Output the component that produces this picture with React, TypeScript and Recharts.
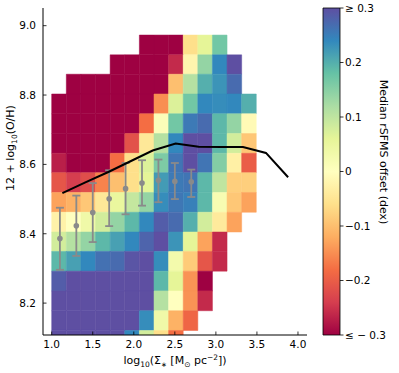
import React from 'react';
import { ComposedChart, XAxis, YAxis, ReferenceArea, Scatter, ErrorBar, Label } from 'recharts';

// bin edges of the 2D histogram (log Sigma_* and 12+log(O/H))
const xEdges = [1.0, 1.178, 1.356, 1.534, 1.712, 1.89, 2.068, 2.246, 2.424, 2.602, 2.78, 2.958, 3.136, 3.314, 3.492];
const yEdges = [8.973, 8.916, 8.86, 8.803, 8.746, 8.689, 8.632, 8.576, 8.519, 8.462, 8.405, 8.349, 8.292, 8.235, 8.178, 8.121, 8.065];

// median rSFMS offset per cell, rows from top (high O/H) to bottom
const N = null;
const offsetGrid: (number | null)[][] = [
  [N, N, N, N, N, N, -0.35, -0.35, -0.35, -0.06, 0.06, 0.17, N, N],
  [N, N, N, N, -0.35, -0.35, -0.35, -0.35, -0.26, -0.02, 0.14, 0.24, 0.3, N],
  [N, -0.35, -0.35, -0.35, -0.35, -0.35, -0.35, -0.35, -0.1, 0.11, 0.2, 0.228, 0.27, N],
  [-0.35, -0.35, -0.35, -0.35, -0.35, -0.35, -0.35, -0.15, 0.07, 0.17, 0.24, 0.235, 0.24, 0.2],
  [-0.35, -0.35, -0.35, -0.35, -0.35, -0.35, -0.18, 0.01, 0.17, 0.255, 0.27, 0.19, 0.14, -0.01],
  [-0.35, -0.35, -0.35, -0.35, -0.35, -0.215, -0.045, 0.11, 0.24, 0.3, 0.3, 0.19, 0.08, -0.09],
  [-0.27, -0.35, -0.35, -0.35, -0.18, -0.06, 0.07, 0.16, 0.26, 0.32, 0.26, 0.155, -0.03, -0.2],
  [-0.21, -0.24, -0.22, -0.16, -0.1, -0.06, 0.06, 0.22, 0.255, 0.26, 0.19, 0.1, -0.08, -0.08],
  [-0.13, -0.115, -0.09, -0.045, 0.05, 0.095, 0.14, 0.235, 0.258, 0.248, 0.19, 0.02, -0.09, -0.13],
  [-0.025, 0.0, 0.035, 0.08, 0.14, 0.19, 0.24, 0.285, 0.27, 0.2, 0.08, -0.04, -0.13, N],
  [0.08, 0.11, 0.14, 0.19, 0.215, 0.24, 0.278, 0.32, 0.228, 0.06, -0.13, -0.26, N, N],
  [0.19, 0.215, 0.24, 0.264, 0.27, 0.294, 0.33, 0.235, 0.03, -0.085, -0.21, -0.26, N, N],
  [0.285, 0.35, 0.35, 0.35, 0.35, 0.35, 0.35, 0.19, 0.06, -0.145, -0.32, N, N, N],
  [0.35, 0.35, 0.35, 0.35, 0.35, 0.35, 0.35, 0.11, 0.0, -0.145, -0.26, N, N, N],
  [0.35, 0.35, 0.35, 0.35, 0.35, 0.35, 0.235, 0.035, -0.115, -0.19, N, N, N, N],
  [0.35, 0.35, 0.35, 0.35, 0.35, 0.24, 0.08, -0.06, -0.18, N, N, N, N, N],
];

// black median relation
const medianX = [1.13, 1.41, 1.69, 1.96, 2.23, 2.51, 2.79, 3.06, 3.33, 3.61, 3.88];
const medianY = [8.517, 8.548, 8.578, 8.609, 8.64, 8.66, 8.651, 8.65, 8.65, 8.633, 8.563];

// grey binned points with error bars
const binX = [1.1, 1.3, 1.5, 1.7, 1.9, 2.1, 2.3, 2.5, 2.7];
const binY = [8.386, 8.423, 8.461, 8.501, 8.53, 8.546, 8.554, 8.551, 8.55];
const binLow = [8.296, 8.336, 8.376, 8.422, 8.456, 8.481, 8.491, 8.5, 8.506];
const binHigh = [8.475, 8.51, 8.546, 8.583, 8.604, 8.612, 8.614, 8.604, 8.585];

const xTicks = [1, 1.5, 2, 2.5, 3, 3.5, 4];
const yTicks = [8.2, 8.4, 8.6, 8.8, 9.0];
const cbarTicks = [-0.3, -0.2, -0.1, 0, 0.1, 0.2, 0.3];
const cbarLabels = ['≤ − 0.3', '−0.2', '−0.1', '0', '0.1', '0.2', '≥ 0.3'];

const FONT = 'DejaVu Sans';
const GREY = '#8a8a8a';
const SPECTRAL = ['#9e0142', '#d53e4f', '#f46d43', '#fdae61', '#fee08b', '#ffffbf', '#e6f598', '#abdda4', '#66c2a5', '#3288bd', '#5e4fa2'];

function spectral(v: number) {
  const t = Math.min(1, Math.max(0, (v + 0.3) / 0.6)) * 10;
  const i = Math.min(9, Math.floor(t));
  const f = t - i;
  const a = SPECTRAL[i], b = SPECTRAL[i + 1];
  const ch = (h: string, k: number) => parseInt(h.slice(1 + 2 * k, 3 + 2 * k), 16);
  const c = [0, 1, 2].map(k => Math.round(ch(a, k) + (ch(b, k) - ch(a, k)) * f));
  return `rgb(${c[0]},${c[1]},${c[2]})`;
}

const cells: { x1: number; x2: number; y1: number; y2: number; v: number }[] = [];
offsetGrid.forEach((row, r) =>
  row.forEach((v, c) => {
    if (v !== null) cells.push({ x1: xEdges[c], x2: xEdges[c + 1], y1: yEdges[r + 1], y2: yEdges[r], v });
  })
);

const lineData = medianX.map((x, i) => ({ x, y: medianY[i] }));
const binData = binX.map((x, i) => ({ x, y: binY[i], err: [binY[i] - binLow[i], binHigh[i] - binY[i]] }));
// end points of the colour bar, so its axes have something to span
const cbarData = [{ x: 0, y: -0.3 }, { x: 1, y: 0.3 }];

const xDomain = [0.894, 4.11];
const yDomain = [8.108, 9.051];

const BottomTick = ({ x, y, payload }: any) => (
  <g>
    <line x1={x} x2={x} y1={y} y2={y - 3.5} stroke="#000" strokeWidth={0.8} />
    <text x={x} y={y + 12.5} textAnchor="middle" fontSize={10.5} fontFamily={FONT} fill="#000">
      {payload.value.toFixed(1)}
    </text>
  </g>
);
const TopTick = ({ x, y }: any) => <line x1={x} x2={x} y1={y} y2={y + 3.5} stroke="#000" strokeWidth={0.8} />;
const LeftTick = ({ x, y, payload }: any) => (
  <g>
    <line x1={x} x2={x + 3.5} y1={y} y2={y} stroke="#000" strokeWidth={0.8} />
    <text x={x - 7} y={y} dy="0.36em" textAnchor="end" fontSize={10.5} fontFamily={FONT} fill="#000">
      {payload.value.toFixed(1)}
    </text>
  </g>
);
const RightTick = ({ x, y }: any) => <line x1={x} x2={x - 3.5} y1={y} y2={y} stroke="#000" strokeWidth={0.8} />;
const CbarTick = ({ x, y, payload }: any) => {
  const i = cbarTicks.findIndex(t => Math.abs(t - payload.value) < 1e-9);
  return (
    <g>
      <line x1={x} x2={x + 3.5} y1={y} y2={y} stroke="#000" strokeWidth={0.8} />
      <text x={x + 5} y={y} dy="0.36em" textAnchor="start" fontSize={10.5} fontFamily={FONT} fill="#000">
        {cbarLabels[i]}
      </text>
    </g>
  );
};

export default function App() {
  return (
    <div style={{ position: 'absolute', left: 0, top: 0, width: 399, height: 373, background: '#fff' }}>
      <div style={{ position: 'absolute', left: 0, top: 0 }}>
        <ComposedChart width={320} height={373} margin={{ top: 8, right: 13, bottom: 0, left: 0 }}>
          <XAxis xAxisId="main" dataKey="x" type="number" domain={xDomain} ticks={xTicks} interval={0} allowDataOverflow
            height={38} tickSize={0} tickMargin={0} tickLine={false} axisLine={{ stroke: '#000' }} tick={<BottomTick />}>
            <Label content={({ viewBox }: any) => (
              <text x={viewBox.x + viewBox.width / 2} y={viewBox.y + 29} textAnchor="middle" fontSize={11} fontFamily={FONT} fill="#000">
                log<tspan fontSize={7.5} dy={3}>10</tspan><tspan dy={-3}>(Σ</tspan><tspan fontSize={7} dy={3}>∗</tspan>
                <tspan dy={-3}> [M</tspan><tspan fontSize={7.5} dy={3}>⊙</tspan><tspan dy={-3}> pc</tspan>
                <tspan fontSize={7.5} dy={-4}>−2</tspan><tspan dy={4}>])</tspan>
              </text>
            )} />
          </XAxis>
          <XAxis xAxisId="top" orientation="top" type="number" domain={xDomain} ticks={xTicks} interval={0} allowDataOverflow
            height={0} tickSize={0} tickMargin={0} tickLine={false} axisLine={{ stroke: '#000' }} tick={<TopTick />} />
          <YAxis yAxisId="main" dataKey="y" type="number" domain={yDomain} ticks={yTicks} interval={0} allowDataOverflow
            width={43} tickSize={0} tickMargin={0} tickLine={false} axisLine={{ stroke: '#000' }} tick={<LeftTick />}>
            <Label content={({ viewBox }: any) => (
              <text transform={`translate(${viewBox.x + 14},${viewBox.y + 140}) rotate(-90)`} textAnchor="middle" fontSize={11} fontFamily={FONT} fill="#000">
                12 + log<tspan fontSize={7.5} dy={3}>10</tspan><tspan dy={-3}>(O/H)</tspan>
              </text>
            )} />
          </YAxis>
          <YAxis yAxisId="right" orientation="right" type="number" domain={yDomain} ticks={yTicks} interval={0} allowDataOverflow
            width={0} tickSize={0} tickMargin={0} tickLine={false} axisLine={{ stroke: '#000' }} tick={<RightTick />} />
          {cells.map((c, i) => (
            <ReferenceArea key={i} xAxisId="main" yAxisId="main" x1={c.x1} x2={c.x2} y1={c.y1} y2={c.y2}
              fill={spectral(c.v)} fillOpacity={1} stroke={spectral(c.v)} strokeWidth={0.5} ifOverflow="hidden" />
          ))}
          <Scatter xAxisId="main" yAxisId="main" data={lineData} dataKey="y" isAnimationActive={false}
            line={{ stroke: '#000', strokeWidth: 2 }} shape={() => <g />} />
          <Scatter xAxisId="main" yAxisId="main" data={binData} dataKey="y" isAnimationActive={false}
            shape={(p: any) => <circle cx={p.cx} cy={p.cy} r={2.8} fill={GREY} />}>
            <ErrorBar dataKey="err" direction="y" width={4} stroke={GREY} strokeWidth={1.8} />
          </Scatter>
        </ComposedChart>
      </div>
      <div style={{ position: 'absolute', left: 300, top: 0 }}>
        <ComposedChart width={99} height={373} margin={{ top: 8, right: 0, bottom: 38, left: 23 }}>
          <defs>
            <linearGradient id="spectralGrad" x1="0" y1="1" x2="0" y2="0">
              {SPECTRAL.map((c, i) => <stop key={i} offset={i / 10} stopColor={c} />)}
            </linearGradient>
          </defs>
          <XAxis xAxisId="cb" dataKey="x" type="number" domain={[0, 1]} allowDataOverflow hide />
          <YAxis yAxisId="cb" dataKey="y" orientation="right" type="number" domain={[-0.3, 0.3]} allowDataOverflow ticks={cbarTicks} interval={0}
            width={59} tickSize={0} tickMargin={0} tickLine={false} axisLine={false} tick={<CbarTick />}>
            <Label content={({ viewBox }: any) => (
              <text transform={`translate(${viewBox.x + 39.5},${viewBox.y + 144}) rotate(90)`} textAnchor="middle" fontSize={11} fontFamily={FONT} fill="#000">
                Median rSFMS offset (dex)
              </text>
            )} />
          </YAxis>
          <Scatter xAxisId="cb" yAxisId="cb" data={cbarData} dataKey="y" isAnimationActive={false} shape={() => <g />} />
          <ReferenceArea xAxisId="cb" yAxisId="cb" x1={0} x2={1} y1={-0.3} y2={0.3} fill="url(#spectralGrad)" fillOpacity={1}
            stroke="#000" strokeWidth={0.8} />
        </ComposedChart>
      </div>
    </div>
  );
}
